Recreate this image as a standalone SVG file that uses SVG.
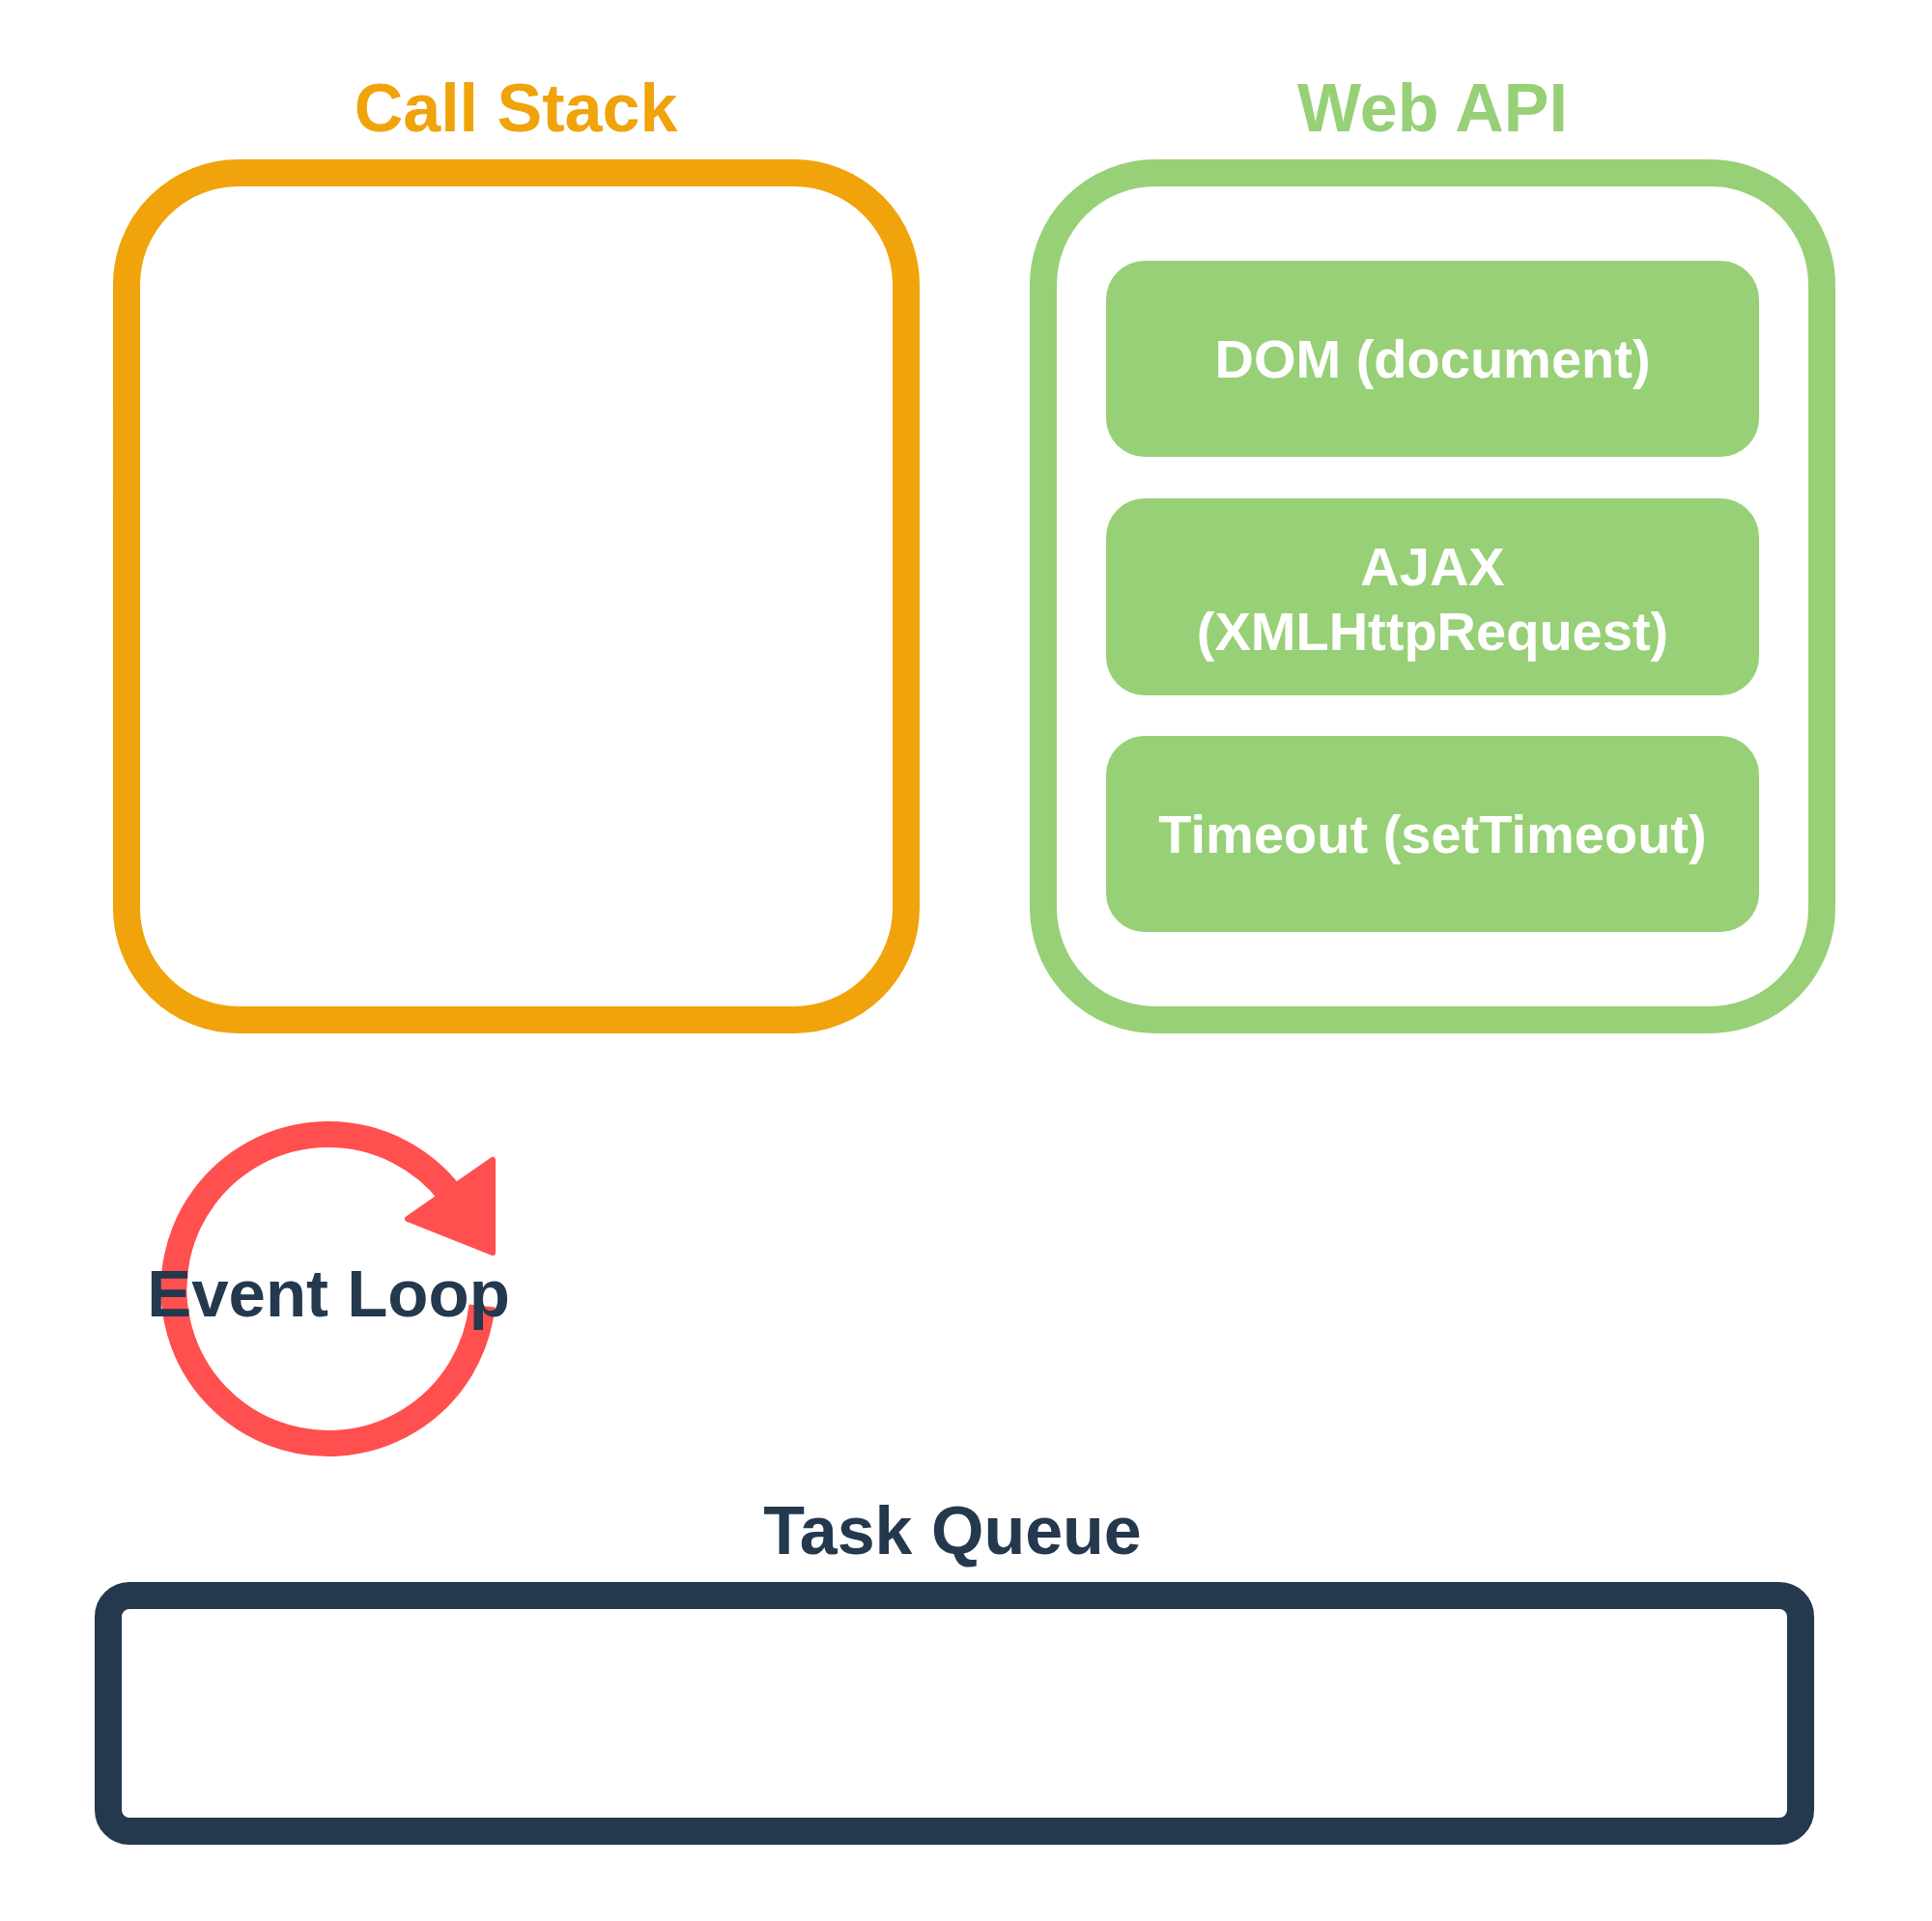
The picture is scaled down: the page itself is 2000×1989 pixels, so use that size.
<svg xmlns="http://www.w3.org/2000/svg" width="2000" height="1989" viewBox="0 0 2000 1989">
<style>
  .lbl { font-family: "Liberation Sans", Arial, Helvetica, sans-serif; font-weight: bold; text-anchor: middle; }
  .head { font-size: 70px; }
  .api { fill: #97D077; }
  .apitxt { font-size: 56px; fill: #FFFFFF; }
</style>
<rect x="0" y="0" width="2000" height="1989" fill="#FFFFFF"/>
<g id="callstack">
  <rect x="131" y="179" width="807" height="877" rx="116" ry="116" fill="#FFFFFF" stroke="#F0A30A" stroke-width="28"/>
  <text class="lbl head" x="534" y="136" fill="#F0A30A">Call Stack</text>
</g>
<g id="webapi">
  <rect x="1080" y="179" width="806" height="877" rx="116" ry="116" fill="#FFFFFF" stroke="#97D077" stroke-width="28"/>
  <text class="lbl head" x="1483" y="136" fill="#97D077">Web API</text>
</g>
<g id="dom">
  <rect class="api" x="1145" y="270" width="676" height="203" rx="40" ry="40"/>
  <text class="lbl apitxt" x="1483" y="391">DOM (document)</text>
</g>
<g id="ajax">
  <rect class="api" x="1145" y="516" width="676" height="204" rx="40" ry="40"/>
  <text class="lbl apitxt" x="1483" y="606">AJAX</text>
  <text class="lbl apitxt" x="1483" y="673">(XMLHttpRequest)</text>
</g>
<g id="timeout">
  <rect class="api" x="1145" y="762" width="676" height="203" rx="40" ry="40"/>
  <text class="lbl apitxt" x="1483" y="883">Timeout (setTimeout)</text>
</g>
<g id="eventloop">
  <path d="M 499 1352 A 160 160 0 1 1 466 1236" fill="none" stroke="#FF4F4F" stroke-width="27"/>
  <polygon points="510,1201 510,1297 422,1262" fill="#FF4F4F" stroke="#FF4F4F" stroke-width="6" stroke-linejoin="round"/>
  <text class="lbl" x="340" y="1363" font-size="69" fill="#24384E">Event Loop</text>
</g>
<g id="taskqueue">
  <rect x="112" y="1652" width="1752" height="244" rx="22" ry="22" fill="#FFFFFF" stroke="#24384E" stroke-width="28"/>
  <text class="lbl head" x="986" y="1609" fill="#24384E">Task Queue</text>
</g>
<g id="connectors"></g>
</svg>
